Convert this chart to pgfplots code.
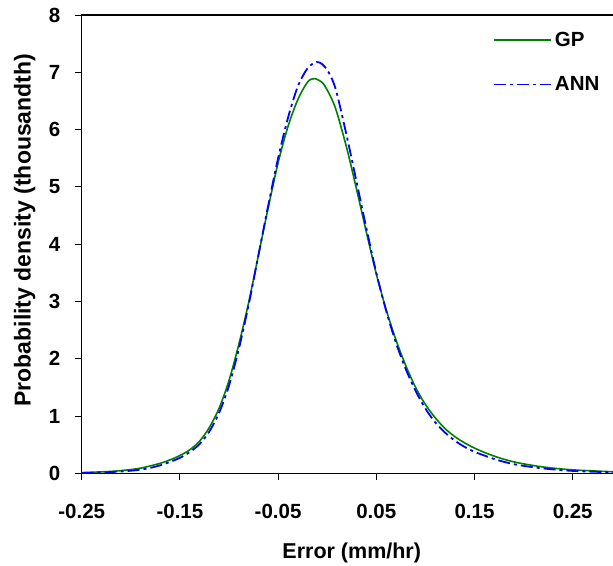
\documentclass[border=0pt]{standalone}
\usepackage{fontspec}
\setmainfont{Liberation Sans}
\usepackage{pgfplots}
\pgfplotsset{compat=1.18}
\definecolor{gpgreen}{RGB}{0,128,0}
\definecolor{annblue}{RGB}{0,0,255}
\begin{document}
\begin{tikzpicture}
\useasboundingbox (-81.7pt,-91.7pt) rectangle (531.3pt,473.3pt);
\begin{axis}[
  scale only axis,
  width=540.1pt, height=458.3pt,
  xmin=-0.25, xmax=0.3, ymin=0, ymax=8,
  xtick={-0.25,-0.15,-0.05,0.05,0.15,0.25},
  xticklabels={-0.25,-0.15,-0.05,0.05,0.15,0.25},
  ytick={0,1,2,3,4,5,6,7,8},
  yticklabels={0,1,2,3,4,5,6,7,8},
  xtick pos=left, ytick pos=left,
  tick align=outside,
  major tick length=7pt,
  major tick style={line width=1pt, black},
  axis line style={line width=1.6pt},
  tick label style={font=\fontsize{20.5}{24}\selectfont\bfseries},
  xticklabel style={yshift=-20pt},
  yticklabel style={xshift=-11pt},
  xlabel={Error (mm/hr)},
  ylabel={Probability density (thousandth)},
  every axis x label/.style={at={(axis description cs:0.5,0)}, anchor=center, yshift=-80pt,
    font=\fontsize{21.5}{25}\selectfont\bfseries},
  every axis y label/.style={at={([xshift=-57pt,yshift=14pt]axis description cs:0,0.5)}, anchor=center, rotate=90,
    font=\fontsize{23}{27}\selectfont\bfseries},
  legend cell align=left,
  legend image code/.code={\draw[#1] plot coordinates {(0pt,0pt) (28.5pt,0pt) (57pt,0pt)};},
  legend style={draw=none, fill=none, font=\fontsize{20.5}{24}\selectfont\bfseries,
    row sep=23pt, at={(axis cs:0.1688,7.76)}, anchor=north west, inner sep=0pt,
    nodes={inner sep=3pt}},
]
\addplot[gpgreen, line width=1.6pt, smooth] coordinates {
(-0.25,0.012) (-0.22,0.033) (-0.20,0.065) (-0.19,0.09) (-0.18,0.13) (-0.17,0.175)
(-0.16,0.235) (-0.15,0.31) (-0.14,0.41) (-0.13,0.56) (-0.12,0.80) (-0.11,1.14)
(-0.10,1.62) (-0.09,2.25) (-0.08,2.98) (-0.07,3.81) (-0.06,4.64) (-0.05,5.42)
(-0.04,6.05) (-0.03,6.52) (-0.02,6.83) (-0.013,6.89) (-0.005,6.82) (0.0,6.69)
(0.005,6.52) (0.01,6.29) (0.02,5.67) (0.03,4.95) (0.04,4.20) (0.05,3.48)
(0.06,2.86) (0.07,2.33) (0.08,1.88) (0.09,1.50) (0.10,1.20) (0.11,0.97)
(0.12,0.78) (0.13,0.64) (0.14,0.53) (0.15,0.44) (0.16,0.365) (0.17,0.30)
(0.18,0.245) (0.19,0.20) (0.20,0.165) (0.22,0.11) (0.25,0.06) (0.30,0.02)
};
\addlegendentry{GP}
\addplot[annblue, line width=1.8pt, smooth, dash pattern=on 12pt off 4pt on 3pt off 4pt] coordinates {
(-0.25,0.005) (-0.22,0.022) (-0.20,0.045) (-0.19,0.065) (-0.18,0.095) (-0.17,0.14)
(-0.16,0.20) (-0.15,0.27) (-0.14,0.37) (-0.13,0.51) (-0.12,0.73) (-0.11,1.06)
(-0.10,1.53) (-0.09,2.17) (-0.08,2.94) (-0.07,3.81) (-0.06,4.68) (-0.05,5.50)
(-0.04,6.20) (-0.03,6.75) (-0.02,7.07) (-0.011,7.18) (-0.005,7.14) (0.0,7.04)
(0.005,6.88) (0.01,6.62) (0.02,5.88) (0.03,5.08) (0.04,4.27) (0.05,3.50)
(0.06,2.84) (0.07,2.28) (0.08,1.82) (0.09,1.44) (0.10,1.13) (0.11,0.89)
(0.12,0.71) (0.13,0.57) (0.14,0.46) (0.15,0.375) (0.16,0.31) (0.17,0.25)
(0.18,0.20) (0.19,0.16) (0.20,0.13) (0.22,0.085) (0.25,0.042) (0.30,0.012)
};
\addlegendentry{ANN}
\end{axis}
\end{tikzpicture}
\end{document}
